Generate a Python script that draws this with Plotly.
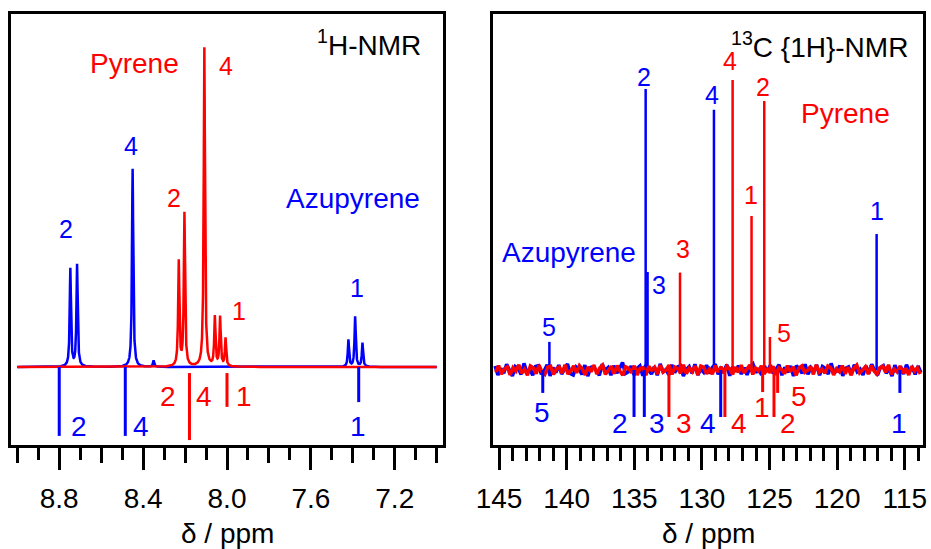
import numpy as np
import plotly.graph_objects as go

BLUE = "#0000FF"
RED = "#FF0000"
FONT = "Liberation Sans, Arial, sans-serif"

# ---------------- 1H NMR (left panel) ----------------
h_azu_shift = [8.747, 8.715, 8.450, 8.350, 7.421, 7.389, 7.354]
h_azu_int = [30.7, 32.0, 62.1, 2.0, 8.5, 15.7, 7.5]
h_pyr_shift = [8.230, 8.203, 8.108, 8.058, 8.033, 8.007]
h_pyr_int = [32.9, 48.0, 100.0, 15.4, 15.4, 8.8]

# calculated shifts (downward sticks)
h_azu_calc_shift = [8.800, 8.485, 7.372]
h_azu_calc_top = [0.0, 0.0, 0.0]
h_azu_calc_bottom = [-21.6, -21.6, -11.0]
h_pyr_calc_shift = [8.179, 8.000]
h_pyr_calc_top = [-1.9, -1.9]
h_pyr_calc_bottom = [-22.9, -12.5]

# ---------------- 13C NMR (right panel) ----------------
c_azu_shift = [141.28, 134.16, 134.02, 129.11, 117.08]
c_azu_int = [9.7, 96.9, 33.8, 89.7, 46.9]
c_pyr_shift = [131.62, 127.73, 126.33, 125.39, 124.97]
c_pyr_int = [33.6, 100.0, 53.1, 92.8, 11.4]

c_azu_calc_shift = [141.77, 135.02, 134.26, 128.61, 115.36]
c_azu_calc_depth = [-7.9, -16.2, -16.2, -16.2, -7.9]
c_pyr_calc_shift = [132.44, 128.30, 125.51, 124.67, 124.40]
c_pyr_calc_depth = [-16.2, -16.2, -7.6, -16.2, -7.9]

# baseline noise of the 13C spectra (estimated wiggles, left to right)
c_azu_noise = [1.4, -1.7, 0.6, -1.1, 2.0, -0.3, -2.1, 1.2, 0.5, -1.5, 2.3, -0.8,
               0.3, -1.8, 1.2, 1.5, -1.4, -0.2, 1.8, -2.0, 0.8, -0.9, 1.7, -1.4,
               0.6, 2.1, -1.2, -1.7, 1.1, 0.3, -1.5, 1.7, -2.1, 0.9, 1.2, -0.5,
               -1.8, 2.0, -0.2, 0.8, -1.8, 1.5, -1.1, 0.6, 2.6, -1.2, -0.6, 1.4,
               -1.7, 0.5, 1.4, -2.0, 1.7, 0.0, -1.4, 1.2, -1.8, 2.1, -0.6, 0.2,
               -1.7, 1.8, -0.9, 1.1, 1.5, -2.1, 0.2, 1.2, -1.1, 2.0, -1.7, 0.3,
               -0.8, 1.7, -1.2, 0.9, 2.0, -1.5, 0.6, -0.3, 1.8, -2.0, 1.1, -0.5,
               1.5, -1.4, 0.8, -1.7, 1.2, 2.1, -0.9, 0.5, -1.7, 1.4, -0.6, 1.7,
               -1.2, 0.3, 1.8, -1.8, 0.9, -0.8, 1.4, -2.1, 1.5, 0.2, -1.1, 2.0,
               -1.5, 0.8, -0.5, 1.7, -1.8, 1.2, 0.5, -1.4, 2.3, -0.9, -0.3, 1.5,
               -2.0, 0.6, 1.1, -1.5, 1.8, -0.6, 0.3, -1.7, 1.4, -1.2, 2.0, -0.2,
               -1.8, 0.9, 1.5, -1.1, 0.5, -2.1, 1.7, -0.8, 1.2, -1.4, 1.8, -0.5,
               0.8, -1.5, 1.4, -0.9]
c_pyr_noise = [-0.7, 1.5, -1.4, 0.4, 1.1, -1.7, 0.8, -0.4, 1.8, -1.1, 0.3, -1.8,
               1.4, 0.8, -1.3, 1.7, -0.7, -1.5, 1.0, 1.3, -1.5, 0.4, 1.0, -1.1,
               1.8, -1.4, -0.3, 1.4, -1.0, 1.5, 0.3, -1.7, 1.1, -0.6, 1.7, -1.4,
               0.7, 1.7, -1.5, 0.1, 1.3, -1.3, 1.5, -0.4, -1.8, 1.1, 0.6, -1.0,
               1.5, -1.7, 0.6, 0.8, -1.8, 1.3, -0.1, 1.0, -1.4, 1.7, -0.7, 0.0,
               1.7, -1.5, 1.0, 0.4, -1.1, 1.8, -1.3, 0.7, -0.6, 1.4, -1.7, 1.4,
               1.0, -1.3, 0.3, -1.4, 1.5, -0.7, 1.1, -1.1, 1.3, 0.4, -1.5, 1.0,
               -0.8, 1.7, -1.0, 0.4, 1.7, -1.5, 0.7, -0.3, 1.4, -1.4, 0.6, -1.0,
               1.3, -1.7, 0.8, 0.1, -1.3, 1.5, -0.6, 1.1, -1.8, 0.7, 1.4, -0.8,
               -0.1, 1.3, -1.5, 1.8, -0.7, 0.3, -1.1, 1.4, 0.8, -1.7, 0.4, -0.6,
               1.5, -1.3, 1.0, -1.8, 0.6, 1.7, -1.0, 0.0, 1.1, -1.4, 1.5, -0.3,
               -1.4, 0.8, 1.3, -0.8, 1.8, -1.5, 0.3, -0.7, 1.4, -1.1, 0.6, -1.7,
               1.3, -0.4, 0.8, -1.4]

# ---------------- helpers ----------------
def lorentz_sum(grid, shifts, ints, hw):
    y = np.zeros_like(grid)
    for s, a in zip(shifts, ints):
        y += a * hw ** 2 / ((grid - s) ** 2 + hw ** 2)
    return y


def sticks(shifts, tops, bottoms):
    xs, ys = [], []
    for s, t, b in zip(shifts, tops, bottoms):
        xs += [s, s, None]
        ys += [t, b, None]
    return xs, ys


fig = go.Figure()

# ---- left: 1H spectra ----
h_grid = np.linspace(9.0, 7.0, 6001)
fig.add_trace(go.Scatter(x=h_grid, y=lorentz_sum(h_grid, h_azu_shift, h_azu_int, 0.0035),
                         mode="lines", line=dict(color=BLUE, width=2.5),
                         xaxis="x", yaxis="y", showlegend=False, hoverinfo="skip"))
fig.add_trace(go.Scatter(x=h_grid, y=lorentz_sum(h_grid, h_pyr_shift, h_pyr_int, 0.0035),
                         mode="lines", line=dict(color=RED, width=2.5),
                         xaxis="x", yaxis="y", showlegend=False, hoverinfo="skip"))
sx, sy = sticks(h_azu_calc_shift, h_azu_calc_top, h_azu_calc_bottom)
fig.add_trace(go.Scatter(x=sx, y=sy, mode="lines", line=dict(color=BLUE, width=3),
                         xaxis="x", yaxis="y", showlegend=False, hoverinfo="skip"))
sx, sy = sticks(h_pyr_calc_shift, h_pyr_calc_top, h_pyr_calc_bottom)
fig.add_trace(go.Scatter(x=sx, y=sy, mode="lines", line=dict(color=RED, width=3),
                         xaxis="x", yaxis="y", showlegend=False, hoverinfo="skip"))
# helper axis for the medium ticks
fig.add_trace(go.Scatter(x=[], y=[], xaxis="x3", yaxis="y", showlegend=False))

# ---- right: 13C spectra ----
noise_x_azu = np.linspace(145.3, 113.8, len(c_azu_noise))
noise_x_pyr = np.linspace(145.25, 113.85, len(c_pyr_noise))
fig.add_trace(go.Scatter(x=noise_x_azu, y=c_azu_noise, mode="lines",
                         line=dict(color=BLUE, width=3.5),
                         xaxis="x2", yaxis="y2", showlegend=False, hoverinfo="skip"))
sx, sy = sticks(c_azu_shift, [0] * len(c_azu_shift), c_azu_int)
fig.add_trace(go.Scatter(x=sx, y=sy, mode="lines", line=dict(color=BLUE, width=2.5),
                         xaxis="x2", yaxis="y2", showlegend=False, hoverinfo="skip"))
fig.add_trace(go.Scatter(x=noise_x_pyr, y=c_pyr_noise, mode="lines",
                         line=dict(color=RED, width=3.5),
                         xaxis="x2", yaxis="y2", showlegend=False, hoverinfo="skip"))
sx, sy = sticks(c_pyr_shift, [0] * len(c_pyr_shift), c_pyr_int)
fig.add_trace(go.Scatter(x=sx, y=sy, mode="lines", line=dict(color=RED, width=2.5),
                         xaxis="x2", yaxis="y2", showlegend=False, hoverinfo="skip"))
sx, sy = sticks(c_azu_calc_shift, [0] * len(c_azu_calc_shift), c_azu_calc_depth)
fig.add_trace(go.Scatter(x=sx, y=sy, mode="lines", line=dict(color=BLUE, width=3),
                         xaxis="x2", yaxis="y2", showlegend=False, hoverinfo="skip"))
sx, sy = sticks(c_pyr_calc_shift, [0] * len(c_pyr_calc_shift), c_pyr_calc_depth)
fig.add_trace(go.Scatter(x=sx, y=sy, mode="lines", line=dict(color=RED, width=3),
                         xaxis="x2", yaxis="y2", showlegend=False, hoverinfo="skip"))

# ---------------- labels ----------------
left_labels = [
    ("Pyrene", 8.439, 95.0, RED, 28),
    ("4", 8.005, 94.5, RED, 25),
    ("4", 8.456, 69.4, BLUE, 25),
    ("2", 8.251, 53.1, RED, 25),
    ("2", 8.767, 43.3, BLUE, 25),
    ("Azupyrene", 7.398, 52.7, BLUE, 28),
    ("1", 7.945, 17.7, RED, 25),
    ("1", 7.382, 24.8, BLUE, 25),
    ("2", 8.704, -18.8, BLUE, 28),
    ("4", 8.408, -18.8, BLUE, 28),
    ("2", 8.279, -9.1, RED, 28),
    ("4", 8.112, -9.1, RED, 28),
    ("1", 7.921, -9.1, RED, 28),
    ("1", 7.377, -18.8, BLUE, 28),
]
right_labels = [
    ("Pyrene", 119.35, 88.6, RED, 28),
    ("Azupyrene", 139.86, 40.5, BLUE, 28),
    ("2", 134.25, 101.2, BLUE, 25),
    ("4", 129.29, 94.7, BLUE, 25),
    ("4", 127.96, 106.6, RED, 25),
    ("2", 125.45, 97.6, RED, 25),
    ("1", 126.38, 60.5, RED, 25),
    ("1", 117.06, 54.7, BLUE, 25),
    ("3", 131.40, 41.6, RED, 25),
    ("3", 133.17, 29.3, BLUE, 25),
    ("5", 141.30, 14.7, BLUE, 25),
    ("5", 123.90, 12.9, RED, 25),
    ("5", 141.82, -14.7, BLUE, 28),
    ("2", 136.06, -18.3, BLUE, 28),
    ("3", 133.29, -18.3, BLUE, 28),
    ("3", 131.33, -18.3, RED, 28),
    ("4", 129.52, -18.3, BLUE, 28),
    ("4", 127.23, -18.3, RED, 28),
    ("1", 125.52, -12.9, RED, 28),
    ("2", 123.64, -18.3, RED, 28),
    ("5", 122.83, -9.1, RED, 28),
    ("1", 115.44, -18.3, BLUE, 28),
]

annotations = []
for t, x, y, c, s in left_labels:
    annotations.append(dict(text=t, x=x, y=y, xref="x", yref="y", showarrow=False,
                            xanchor="center", yanchor="middle",
                            font=dict(family=FONT, size=s, color=c)))
for t, x, y, c, s in right_labels:
    annotations.append(dict(text=t, x=x, y=y, xref="x2", yref="y2", showarrow=False,
                            xanchor="center", yanchor="middle",
                            font=dict(family=FONT, size=s, color=c)))
annotations.append(dict(text="<sup>1</sup>H-NMR", x=7.067, y=101.5, xref="x", yref="y",
                        showarrow=False, xanchor="right", yanchor="middle",
                        font=dict(family=FONT, size=28, color="black")))
annotations.append(dict(text="<sup>13</sup>C {1H}-NMR", x=114.62, y=112.0, xref="x2", yref="y2",
                        showarrow=False, xanchor="right", yanchor="middle",
                        font=dict(family=FONT, size=28, color="black")))
for xc in [(11 + 443) / 2 / 931, (493 + 923) / 2 / 931]:
    annotations.append(dict(text="δ / ppm", x=xc, y=1 - 533 / 549, xref="paper", yref="paper",
                            showarrow=False, xanchor="center", yanchor="middle",
                            font=dict(family=FONT, size=28, color="black")))

frame = dict(showline=True, linewidth=3, linecolor="black", mirror=True,
             showgrid=False, zeroline=False, automargin=False)
xdom1 = [11 / 931, 443 / 931]
xdom2 = [493 / 931, 923 / 931]
ydom = [104 / 549, 535 / 549]

fig.update_layout(
    width=931, height=549, autosize=False,
    margin=dict(l=0, r=0, t=0, b=0, pad=0, autoexpand=False),
    paper_bgcolor="white", plot_bgcolor="white",
    showlegend=False,
    annotations=annotations,
    xaxis=dict(domain=xdom1, range=[9.03, 6.97], anchor="y", **frame,
               ticks="outside", ticklen=22, tickwidth=3, tickcolor="black",
               tickmode="linear", tick0=0, dtick=0.4, tickformat=".1f",
               tickfont=dict(family=FONT, size=28, color="black"),
               ticklabelstandoff=4,
               minor=dict(ticks="outside", ticklen=12, tickwidth=3, tickcolor="black",
                          tickmode="linear", tick0=0, dtick=0.1, showgrid=False)),
    xaxis3=dict(overlaying="x", anchor="y", range=[9.03, 6.97], side="bottom",
                showline=False, showgrid=False, zeroline=False, automargin=False,
                ticks="outside", ticklen=17, tickwidth=3, tickcolor="black",
                tickmode="linear", tick0=0.2, dtick=0.4, showticklabels=False),
    yaxis=dict(domain=ydom, range=[-24.45, 110.66], anchor="x", **frame,
               ticks="", showticklabels=False),
    xaxis2=dict(domain=xdom2, range=[145.45, 113.65], anchor="y2", **frame,
                ticks="outside", ticklen=22, tickwidth=3, tickcolor="black",
                tickmode="linear", tick0=115, dtick=5,
                tickfont=dict(family=FONT, size=28, color="black"),
                ticklabelstandoff=4,
                minor=dict(ticks="outside", ticklen=13, tickwidth=3, tickcolor="black",
                           tickmode="linear", tick0=115, dtick=1, showgrid=False)),
    yaxis2=dict(domain=ydom, range=[-25.86, 122.76], anchor="x2", **frame,
                ticks="", showticklabels=False),
)

fig.write_html("out.html")
